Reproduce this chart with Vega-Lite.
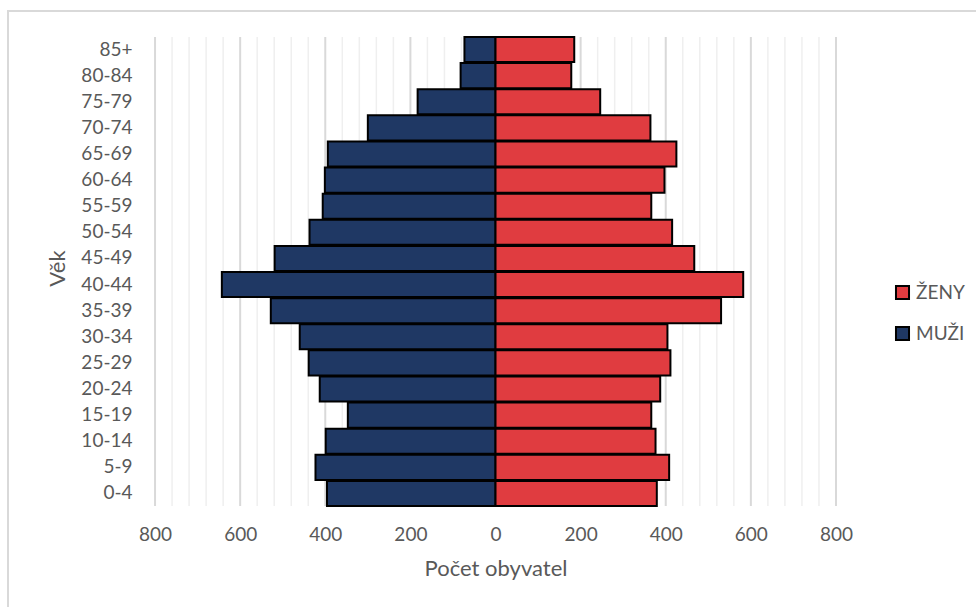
{
  "$schema": "https://vega.github.io/schema/vega-lite/v6.json",
  "width": 970,
  "height": 600,
  "autosize": "none",
  "padding": {"left": 8, "top": 11, "right": 0, "bottom": 0},
  "background": "white",
  "datasets": {
    "pyramida": [
      {"vek": "85+", "pohlavi": "MUŽI", "pocet": 73},
      {"vek": "80-84", "pohlavi": "MUŽI", "pocet": 82},
      {"vek": "75-79", "pohlavi": "MUŽI", "pocet": 183},
      {"vek": "70-74", "pohlavi": "MUŽI", "pocet": 300},
      {"vek": "65-69", "pohlavi": "MUŽI", "pocet": 394},
      {"vek": "60-64", "pohlavi": "MUŽI", "pocet": 401},
      {"vek": "55-59", "pohlavi": "MUŽI", "pocet": 406},
      {"vek": "50-54", "pohlavi": "MUŽI", "pocet": 437},
      {"vek": "45-49", "pohlavi": "MUŽI", "pocet": 519},
      {"vek": "40-44", "pohlavi": "MUŽI", "pocet": 643},
      {"vek": "35-39", "pohlavi": "MUŽI", "pocet": 528},
      {"vek": "30-34", "pohlavi": "MUŽI", "pocet": 460},
      {"vek": "25-29", "pohlavi": "MUŽI", "pocet": 439},
      {"vek": "20-24", "pohlavi": "MUŽI", "pocet": 413},
      {"vek": "15-19", "pohlavi": "MUŽI", "pocet": 347},
      {"vek": "10-14", "pohlavi": "MUŽI", "pocet": 399},
      {"vek": "5-9", "pohlavi": "MUŽI", "pocet": 423},
      {"vek": "0-4", "pohlavi": "MUŽI", "pocet": 396},
      {"vek": "85+", "pohlavi": "ŽENY", "pocet": 185},
      {"vek": "80-84", "pohlavi": "ŽENY", "pocet": 178},
      {"vek": "75-79", "pohlavi": "ŽENY", "pocet": 246},
      {"vek": "70-74", "pohlavi": "ŽENY", "pocet": 364},
      {"vek": "65-69", "pohlavi": "ŽENY", "pocet": 425},
      {"vek": "60-64", "pohlavi": "ŽENY", "pocet": 397},
      {"vek": "55-59", "pohlavi": "ŽENY", "pocet": 366},
      {"vek": "50-54", "pohlavi": "ŽENY", "pocet": 415},
      {"vek": "45-49", "pohlavi": "ŽENY", "pocet": 467},
      {"vek": "40-44", "pohlavi": "ŽENY", "pocet": 582},
      {"vek": "35-39", "pohlavi": "ŽENY", "pocet": 530},
      {"vek": "30-34", "pohlavi": "ŽENY", "pocet": 404},
      {"vek": "25-29", "pohlavi": "ŽENY", "pocet": 411},
      {"vek": "20-24", "pohlavi": "ŽENY", "pocet": 387},
      {"vek": "15-19", "pohlavi": "ŽENY", "pocet": 366},
      {"vek": "10-14", "pohlavi": "ŽENY", "pocet": 376},
      {"vek": "5-9", "pohlavi": "ŽENY", "pocet": 408},
      {"vek": "0-4", "pohlavi": "ŽENY", "pocet": 379}
    ],
    "mrizka": [
      {"g": -800}, {"g": -760}, {"g": -720}, {"g": -680}, {"g": -640},
      {"g": -600}, {"g": -560}, {"g": -520}, {"g": -480}, {"g": -440},
      {"g": -400}, {"g": -360}, {"g": -320}, {"g": -280}, {"g": -240},
      {"g": -200}, {"g": -160}, {"g": -120}, {"g": -80}, {"g": -40},
      {"g": 0}, {"g": 40}, {"g": 80}, {"g": 120}, {"g": 160},
      {"g": 200}, {"g": 240}, {"g": 280}, {"g": 320}, {"g": 360},
      {"g": 400}, {"g": 440}, {"g": 480}, {"g": 520}, {"g": 560},
      {"g": 600}, {"g": 640}, {"g": 680}, {"g": 720}, {"g": 760},
      {"g": 800}
    ]
  },
  "layer": [
    {
      "data": {"name": "mrizka"},
      "mark": {"type": "rule"},
      "encoding": {
        "x": {
          "field": "g",
          "type": "quantitative",
          "title": "Počet obyvatel",
          "scale": {"domain": [-1145.5, 1133.7], "nice": false, "zero": false},
          "axis": {
            "orient": "bottom",
            "offset": -91,
            "values": [-800, -600, -400, -200, 0, 200, 400, 600, 800],
            "labelExpr": "format(abs(datum.value), 'd')",
            "domain": false,
            "ticks": false,
            "tickSize": 0,
            "grid": false,
            "labelPadding": 5,
            "labelBaseline": "top",
            "labelFlush": false,
            "labelOverlap": false,
            "titleX": 487.5,
            "titleY": 48,
            "titleBaseline": "middle",
            "titleAlign": "center",
            "titleAnchor": null
          }
        },
        "y": {"datum": "85+", "type": "nominal", "bandPosition": 0},
        "y2": {"datum": "0-4", "bandPosition": 1},
        "color": {
          "condition": {"test": "datum.g % 200 === 0", "value": "#d9d9d9"},
          "value": "#efefef"
        },
        "strokeWidth": {
          "condition": {"test": "datum.g % 200 === 0", "value": 2},
          "value": 1.5
        }
      }
    },
    {
      "data": {"name": "pyramida"},
      "transform": [
        {"calculate": "datum.pohlavi === 'MUŽI' ? -datum.pocet : datum.pocet", "as": "hodnota"}
      ],
      "mark": {"type": "bar", "stroke": "black", "strokeWidth": 2},
      "encoding": {
        "y": {
          "field": "vek",
          "type": "nominal",
          "title": "Věk",
          "scale": {
            "domain": ["85+", "80-84", "75-79", "70-74", "65-69", "60-64", "55-59", "50-54", "45-49", "40-44", "35-39", "30-34", "25-29", "20-24", "15-19", "10-14", "5-9", "0-4"],
            "range": [26, 495],
            "paddingInner": 0.04,
            "paddingOuter": 0,
            "round": false
          },
          "axis": {
            "orient": "left",
            "offset": -128,
            "domain": false,
            "ticks": false,
            "tickSize": 0,
            "grid": false,
            "labelPadding": 4,
            "labelAlign": "right",
            "titleX": -79,
            "titleY": 257,
            "titleAngle": -90,
            "titleBaseline": "middle",
            "titleAlign": "center",
            "titleAnchor": null
          }
        },
        "x": {"field": "hodnota", "type": "quantitative", "title": "Počet obyvatel", "stack": null},
        "x2": {"datum": 0},
        "color": {
          "field": "pohlavi",
          "type": "nominal",
          "scale": {"domain": ["ŽENY", "MUŽI"], "range": ["#E03C40", "#1F3864"]},
          "legend": {
            "title": null,
            "orient": "none",
            "legendX": 885,
            "legendY": 272,
            "symbolType": "square",
            "symbolSize": 170,
            "symbolStrokeColor": "black",
            "symbolStrokeWidth": 2,
            "symbolOpacity": 1,
            "labelFont": "Lato",
            "labelFontSize": 19,
            "labelColor": "#595959",
            "labelOffset": 4,
            "rowPadding": 18
          }
        }
      }
    },
    {
      "mark": {"type": "rule", "color": "white", "strokeWidth": 4},
      "encoding": {
        "x": {"datum": 0, "type": "quantitative", "title": "Počet obyvatel"},
        "y": {"datum": "85+", "type": "nominal", "bandPosition": 0},
        "y2": {"datum": "0-4", "bandPosition": 1}
      }
    },
    {
      "mark": {"type": "rule", "color": "#c8c8c8", "strokeWidth": 1.5},
      "encoding": {
        "x": {"datum": 0, "type": "quantitative", "title": "Počet obyvatel"},
        "y": {"datum": "85+", "type": "nominal", "bandPosition": 0},
        "y2": {"datum": "0-4", "bandPosition": 1}
      }
    }
  ],
  "config": {
    "view": {"stroke": "#d9d9d9", "strokeWidth": 2},
    "axis": {
      "labelFont": "Lato",
      "labelFontSize": 19,
      "labelColor": "#595959",
      "titleFont": "Lato",
      "titleFontSize": 22,
      "titleFontWeight": "normal",
      "titleColor": "#595959"
    }
  }
}
